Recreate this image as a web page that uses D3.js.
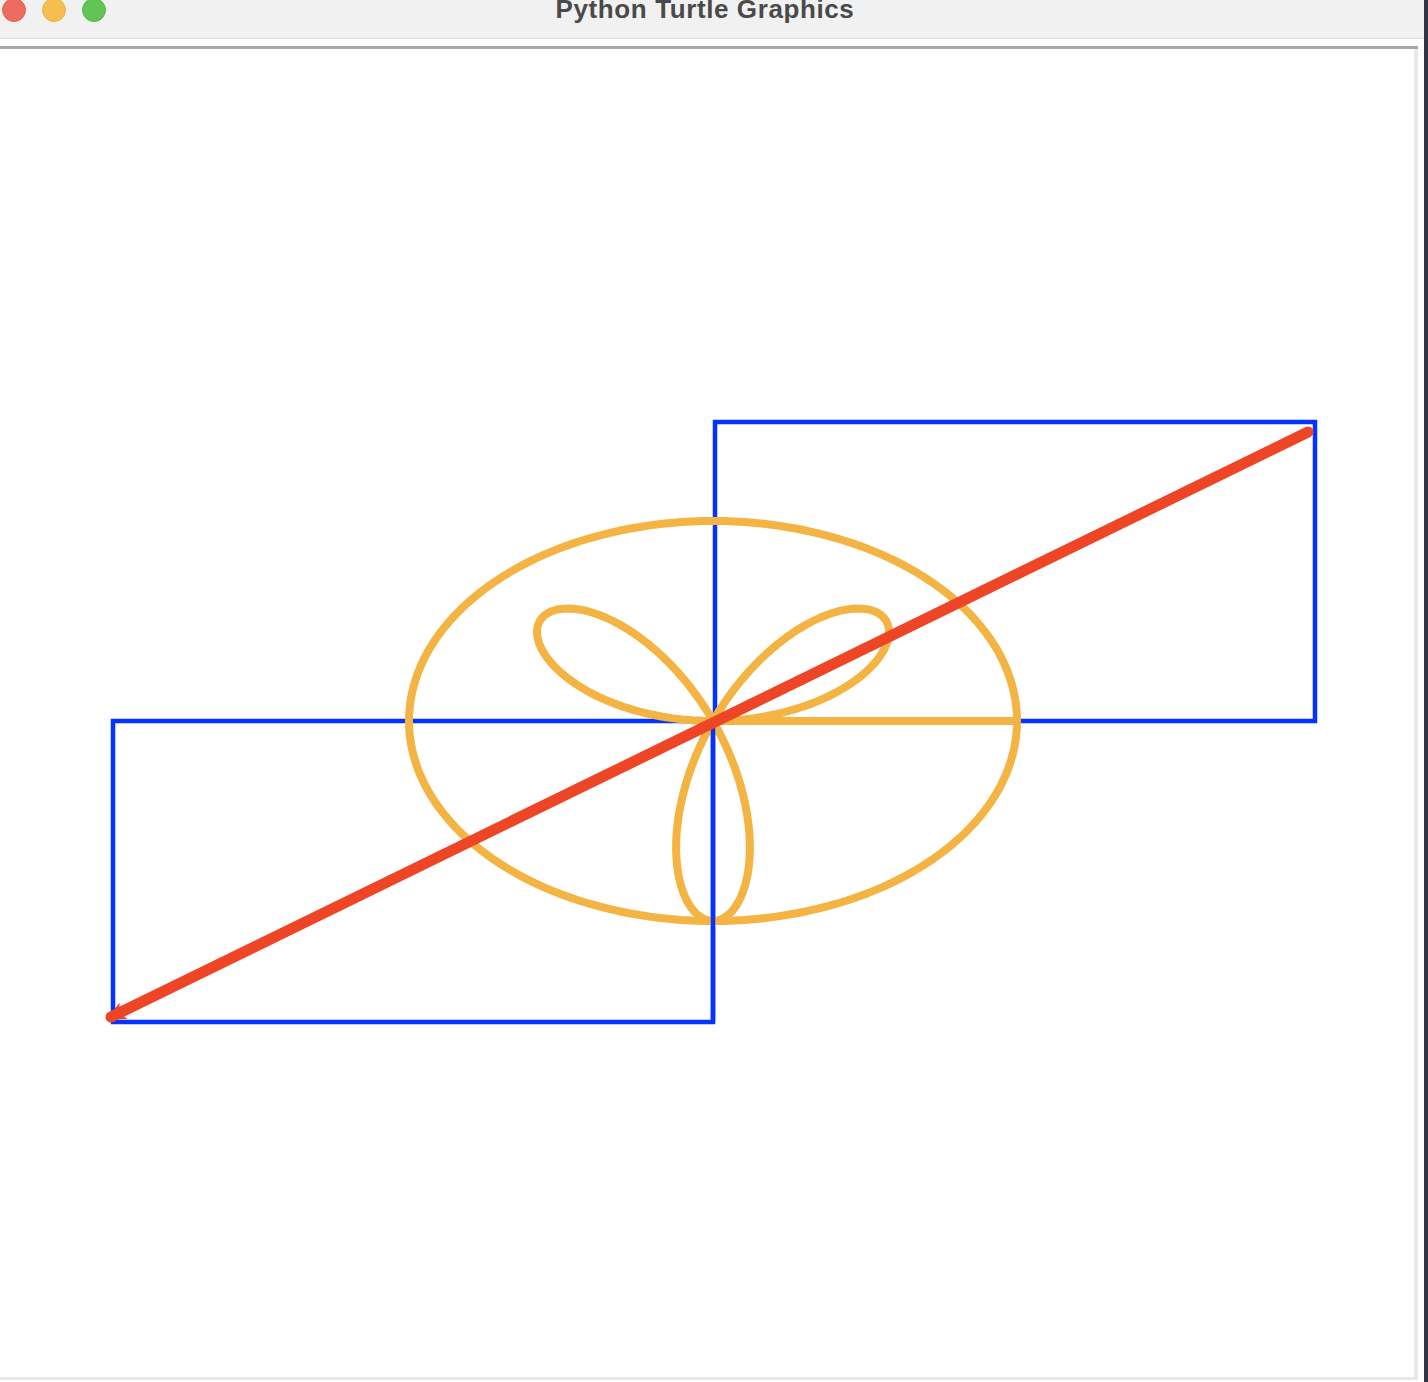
<!DOCTYPE html>
<html><head><meta charset="utf-8">
<script src="https://cdn.jsdelivr.net/npm/d3@7"></script>
<style>body{margin:0;background:#fff}svg{display:block}</style>
</head><body>
<script>
// Turtle-space data (origin at canvas centre, y up)
const rectUpper = [[2,0],[2,299],[602,299],[602,0],[2,0]];
const rectLower = [[0,0],[0,-301],[-600,-301],[-600,0],[0,0]];
const ellipseRadii = [304, 200];
const roseAmplitude = 200;
const roseLobes = 3;
const arrowLine = [[595,289],[-602,-296]];
const titleText = "Python Turtle Graphics";

const W=1428,H=1382;
const x=d3.scaleLinear().domain([0,1]).range([713,714]);
const y=d3.scaleLinear().domain([0,1]).range([721,720]);
const svg=d3.select("body").append("svg").attr("width",W).attr("height",H);

// window chrome
svg.append("rect").attr("width",W).attr("height",H).attr("fill","#fff");
svg.append("rect").attr("width",W).attr("height",38).attr("fill","#f1f1f1");
svg.append("rect").attr("y",38).attr("width",W).attr("height",1).attr("fill","#dcdcdc");
svg.append("rect").attr("y",46).attr("width",1418).attr("height",3).attr("fill","#a8a8a8");
svg.append("rect").attr("x",1414).attr("y",49).attr("width",4).attr("height",1328).attr("fill","#e8e8e8");
svg.append("rect").attr("y",1377).attr("width",1418).attr("height",3).attr("fill","#e8e8e8");
svg.append("rect").attr("x",1424).attr("y",0).attr("width",4).attr("height",H).attr("fill","#333344");
[["#ee6b60","#d9534a",14],["#f6be4f","#dea83a",54],["#61c554","#4ea944",94]].forEach(([f,s,cx])=>
  svg.append("circle").attr("cx",cx).attr("cy",10).attr("r",11.5).attr("fill",f).attr("stroke",s).attr("stroke-width",0.8));
svg.append("text").attr("x",705).attr("y",18).attr("text-anchor","middle")
  .attr("font-family","Liberation Sans, Arial, sans-serif").attr("font-weight","bold")
  .attr("font-size",26).attr("letter-spacing",0.6).attr("fill","#4a4a4a").text(titleText);

const line=d3.line().x(d=>x(d[0])).y(d=>y(d[1]));
function sty(sel,o){for(const k in o)sel.attr(k,o[k]);return sel;}
const orange={"fill":"none","stroke":"#f4b443","stroke-width":8,"stroke-linejoin":"round","stroke-linecap":"round"};
const blue={"fill":"none","stroke":"#0433ff","stroke-width":4.5};

// blue rectangles
[rectUpper,rectLower].forEach(r=>sty(svg.append("path").attr("d",line(r)),blue));

// orange: line to ellipse start, ellipse, rose
const ellipsePts=d3.range(0,361,2).map(a=>{const t=a*Math.PI/180;return [ellipseRadii[0]*Math.cos(t),ellipseRadii[1]*Math.sin(t)];});
const rosePts=d3.range(0,361,1).map(a=>{const t=a*Math.PI/180,r=roseAmplitude*Math.sin(roseLobes*t);return [r*Math.cos(t),r*Math.sin(t)];});
sty(svg.append("path").attr("d",line([[0,0],[ellipseRadii[0],0]])),orange);
sty(svg.append("path").attr("d",line(ellipsePts)),orange);
sty(svg.append("path").attr("d",line(rosePts)),orange);
// lower rectangle's vertical edge drawn on top
sty(svg.append("path").attr("d",line([rectLower[0],rectLower[1]])),blue);

// red arrow
svg.append("path").attr("d",line(arrowLine)).attr("stroke","#ee4527").attr("stroke-width",11).attr("stroke-linecap","round");
const [ax,ay]=[x(arrowLine[1][0]),y(arrowLine[1][1])];
const ang=Math.atan2(ay-y(arrowLine[0][1]),ax-x(arrowLine[0][0]))*180/Math.PI;
svg.append("path").attr("d","M6,0 L-14,-9 L-9,0 L-14,9 Z").attr("fill","#ee4527")
  .attr("transform",`translate(${ax},${ay}) rotate(${ang})`);
</script>
</body></html>
